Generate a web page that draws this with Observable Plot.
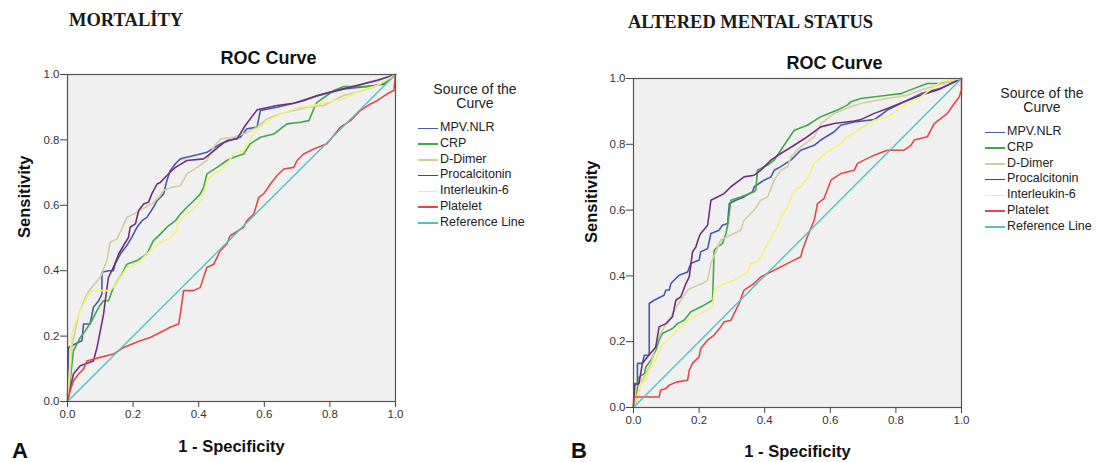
<!DOCTYPE html>
<html>
<head>
<meta charset="utf-8">
<script src="https://cdn.jsdelivr.net/npm/d3@7"></script>
<script src="https://cdn.jsdelivr.net/npm/@observablehq/plot@0.6"></script>
<style>
  html, body { margin: 0; padding: 0; background: #ffffff; }
  #root { position: relative; width: 1101px; height: 462px; overflow: hidden; background: #fff; font-family: "Liberation Sans", Arial, sans-serif; }
  .panel { position: absolute; top: 0; }
  .head { position: absolute; font-family: "Liberation Serif", "Times New Roman", serif; font-weight: bold; font-size: 18.5px; color: #1a1a1a; white-space: nowrap; }
  .letter { position: absolute; font-weight: bold; font-size: 22px; line-height: 22px; color: #111; }
  .legend { position: absolute; color: #222; }
  .legend .ttl { text-align: center; font-size: 14px; line-height: 14px; width: 130px; }
  .legend .row { position: relative; height: 15.8px; font-size: 12.5px; line-height: 15.8px; white-space: nowrap; }
  .legend .sw { position: absolute; left: 0; top: 7.5px; width: 20px; height: 1.6px; }
  .legend .lb { position: absolute; left: 22px; top: 0; }
</style>
</head>
<body>
<div id="root"></div>
<script>
// ---------- data ----------
const seriesNames = ["MPV.NLR", "CRP", "D-Dimer", "Procalcitonin", "Interleukin-6", "Platelet"];
const seriesColors = ["#4a5aa8", "#3fa847", "#d3cc9f", "#71307f", "#f4f17a", "#e4474b"];
const refName = "Reference Line";
const refColor = "#55c0c4";
const refFpr = [0, 1];
const refTpr = [0, 1];
const axisTicks = [0, 0.2, 0.4, 0.6, 0.8, 1.0];

const panelHeads = ["MORTALİTY", "ALTERED MENTAL STATUS"];
const panelLetters = ["A", "B"];
const chartTitle = "ROC Curve";
const xLabel = "1 - Specificity";
const yLabel = "Sensitivity";
const legendTitle = ["Source of the", "Curve"];

// Panel A (Mortality): [1 - specificity, sensitivity]
const A_mpvnlr = [[0,0],[0.003,0.165],[0.023,0.176],[0.044,0.186],[0.049,0.237],[0.069,0.237],[0.079,0.288],[0.095,0.308],[0.105,0.329],[0.105,0.395],[0.125,0.400],[0.140,0.400],[0.145,0.420],[0.161,0.451],[0.181,0.477],[0.196,0.502],[0.212,0.533],[0.227,0.553],[0.242,0.563],[0.262,0.594],[0.273,0.614],[0.283,0.624],[0.293,0.635],[0.303,0.676],[0.313,0.706],[0.329,0.727],[0.344,0.742],[0.364,0.747],[0.405,0.757],[0.425,0.762],[0.466,0.788],[0.507,0.803],[0.527,0.808],[0.547,0.834],[0.578,0.839],[0.588,0.890],[0.639,0.900],[0.690,0.912],[0.720,0.922],[0.791,0.943],[0.842,0.956],[0.893,0.961],[0.969,0.971],[0.975,0.982],[1,1]];
const A_crp = [[0,0],[0.008,0.063],[0.018,0.155],[0.039,0.196],[0.054,0.216],[0.074,0.247],[0.095,0.288],[0.110,0.308],[0.125,0.308],[0.140,0.349],[0.166,0.390],[0.181,0.420],[0.212,0.431],[0.242,0.451],[0.262,0.492],[0.283,0.512],[0.303,0.533],[0.329,0.553],[0.344,0.573],[0.364,0.594],[0.385,0.614],[0.405,0.635],[0.415,0.655],[0.425,0.696],[0.456,0.716],[0.486,0.737],[0.507,0.747],[0.537,0.757],[0.557,0.788],[0.588,0.808],[0.629,0.818],[0.669,0.849],[0.710,0.854],[0.736,0.859],[0.751,0.895],[0.761,0.915],[0.812,0.951],[0.842,0.963],[0.934,0.963],[0.975,0.977],[1,1]];
const A_ddimer = [[0,0],[0.008,0.084],[0.013,0.165],[0.034,0.267],[0.059,0.329],[0.074,0.349],[0.100,0.380],[0.120,0.431],[0.130,0.487],[0.151,0.497],[0.166,0.528],[0.181,0.563],[0.212,0.579],[0.237,0.594],[0.257,0.604],[0.278,0.624],[0.293,0.645],[0.318,0.655],[0.344,0.660],[0.364,0.696],[0.395,0.716],[0.425,0.737],[0.446,0.778],[0.466,0.803],[0.507,0.808],[0.547,0.823],[0.578,0.839],[0.608,0.864],[0.649,0.880],[0.690,0.890],[0.730,0.900],[0.781,0.905],[0.842,0.936],[0.893,0.949],[0.944,0.966],[1,1]];
const A_procalcitonin = [[0,0],[0.018,0.084],[0.039,0.109],[0.079,0.124],[0.090,0.165],[0.110,0.267],[0.115,0.308],[0.125,0.380],[0.140,0.410],[0.156,0.451],[0.171,0.477],[0.186,0.502],[0.191,0.533],[0.207,0.543],[0.217,0.584],[0.232,0.604],[0.247,0.609],[0.257,0.635],[0.273,0.665],[0.283,0.670],[0.303,0.691],[0.313,0.701],[0.329,0.716],[0.364,0.737],[0.415,0.742],[0.435,0.757],[0.466,0.783],[0.486,0.798],[0.517,0.803],[0.542,0.844],[0.578,0.892],[0.639,0.905],[0.690,0.912],[0.720,0.920],[0.761,0.936],[0.842,0.956],[0.893,0.969],[0.944,0.982],[1,1]];
const A_interleukin6 = [[0,0],[0.008,0.124],[0.013,0.206],[0.034,0.267],[0.054,0.308],[0.074,0.339],[0.125,0.339],[0.140,0.349],[0.161,0.380],[0.181,0.410],[0.201,0.415],[0.222,0.431],[0.252,0.461],[0.283,0.487],[0.313,0.502],[0.334,0.522],[0.334,0.543],[0.354,0.568],[0.385,0.589],[0.405,0.614],[0.415,0.635],[0.425,0.676],[0.446,0.696],[0.466,0.706],[0.486,0.727],[0.507,0.757],[0.537,0.767],[0.568,0.818],[0.598,0.849],[0.649,0.880],[0.710,0.900],[0.751,0.905],[0.791,0.915],[0.842,0.926],[0.893,0.951],[0.944,0.966],[1,1]];
const A_platelet = [[0,0],[0.008,0.033],[0.018,0.063],[0.034,0.084],[0.049,0.099],[0.059,0.124],[0.100,0.135],[0.140,0.145],[0.171,0.165],[0.222,0.186],[0.252,0.196],[0.283,0.211],[0.313,0.227],[0.339,0.237],[0.344,0.267],[0.354,0.339],[0.385,0.339],[0.405,0.349],[0.415,0.380],[0.425,0.410],[0.446,0.420],[0.466,0.461],[0.486,0.482],[0.496,0.507],[0.537,0.533],[0.547,0.553],[0.568,0.573],[0.583,0.624],[0.598,0.635],[0.619,0.665],[0.639,0.691],[0.659,0.711],[0.690,0.716],[0.700,0.737],[0.720,0.757],[0.751,0.772],[0.791,0.788],[0.832,0.839],[0.863,0.859],[0.893,0.890],[0.924,0.910],[0.944,0.920],[0.975,0.941],[0.995,0.951],[1,1]];

// Panel B (Altered mental status)
const B_mpvnlr = [[0,0],[0.002,0.073],[0.012,0.073],[0.012,0.134],[0.027,0.134],[0.033,0.159],[0.048,0.159],[0.048,0.316],[0.063,0.326],[0.093,0.341],[0.099,0.357],[0.109,0.357],[0.114,0.377],[0.129,0.392],[0.139,0.402],[0.165,0.412],[0.175,0.438],[0.200,0.448],[0.205,0.473],[0.226,0.483],[0.236,0.529],[0.261,0.539],[0.271,0.554],[0.287,0.559],[0.292,0.620],[0.312,0.630],[0.337,0.640],[0.363,0.656],[0.368,0.671],[0.398,0.691],[0.419,0.701],[0.429,0.721],[0.449,0.732],[0.480,0.752],[0.510,0.782],[0.551,0.797],[0.571,0.813],[0.612,0.838],[0.632,0.858],[0.673,0.868],[0.734,0.875],[0.754,0.889],[0.774,0.904],[0.825,0.929],[0.876,0.954],[0.937,0.970],[1,1]];
const B_crp = [[0,0],[0.007,0.022],[0.017,0.093],[0.033,0.103],[0.038,0.124],[0.053,0.144],[0.068,0.174],[0.078,0.205],[0.088,0.225],[0.119,0.240],[0.134,0.255],[0.154,0.265],[0.175,0.291],[0.195,0.301],[0.215,0.311],[0.241,0.326],[0.246,0.478],[0.256,0.488],[0.271,0.498],[0.282,0.529],[0.287,0.554],[0.297,0.630],[0.327,0.640],[0.368,0.656],[0.373,0.661],[0.378,0.721],[0.409,0.737],[0.429,0.752],[0.449,0.782],[0.470,0.813],[0.490,0.843],[0.530,0.858],[0.571,0.884],[0.622,0.904],[0.652,0.919],[0.663,0.929],[0.693,0.939],[0.774,0.949],[0.815,0.954],[0.856,0.970],[0.896,0.985],[0.937,0.985],[1,1]];
const B_ddimer = [[0,0],[0.007,0.012],[0.022,0.073],[0.038,0.103],[0.053,0.134],[0.073,0.205],[0.088,0.235],[0.114,0.276],[0.134,0.311],[0.165,0.357],[0.185,0.367],[0.210,0.377],[0.226,0.387],[0.236,0.438],[0.251,0.473],[0.266,0.509],[0.307,0.529],[0.327,0.539],[0.337,0.569],[0.368,0.600],[0.388,0.630],[0.409,0.640],[0.429,0.691],[0.449,0.721],[0.470,0.732],[0.480,0.762],[0.510,0.792],[0.551,0.823],[0.571,0.863],[0.612,0.894],[0.663,0.914],[0.693,0.924],[0.774,0.939],[0.835,0.949],[0.876,0.965],[0.927,0.980],[1,1]];
const B_procalcitonin = [[0,0],[0.004,0.068],[0.017,0.073],[0.027,0.134],[0.043,0.154],[0.068,0.184],[0.078,0.245],[0.099,0.255],[0.119,0.276],[0.129,0.326],[0.144,0.336],[0.160,0.377],[0.170,0.397],[0.180,0.473],[0.190,0.488],[0.200,0.519],[0.205,0.529],[0.226,0.554],[0.236,0.630],[0.256,0.640],[0.276,0.650],[0.297,0.671],[0.317,0.686],[0.337,0.701],[0.368,0.706],[0.388,0.721],[0.419,0.752],[0.449,0.772],[0.490,0.797],[0.530,0.823],[0.571,0.853],[0.612,0.863],[0.673,0.871],[0.693,0.875],[0.734,0.894],[0.774,0.909],[0.825,0.929],[0.876,0.949],[0.927,0.965],[1,1]];
const B_interleukin6 = [[0,0],[0.007,0.022],[0.022,0.073],[0.038,0.083],[0.053,0.124],[0.068,0.144],[0.083,0.184],[0.124,0.225],[0.165,0.265],[0.205,0.286],[0.241,0.306],[0.246,0.357],[0.266,0.372],[0.307,0.387],[0.348,0.412],[0.358,0.438],[0.378,0.443],[0.388,0.458],[0.409,0.498],[0.439,0.549],[0.449,0.580],[0.470,0.610],[0.490,0.661],[0.510,0.671],[0.530,0.696],[0.551,0.742],[0.591,0.777],[0.632,0.802],[0.652,0.823],[0.693,0.848],[0.734,0.873],[0.774,0.883],[0.805,0.904],[0.835,0.924],[0.876,0.944],[0.917,0.975],[0.937,0.990],[1,1]];
const B_platelet = [[0,0],[0.002,0.032],[0.078,0.032],[0.083,0.053],[0.099,0.058],[0.109,0.068],[0.134,0.078],[0.165,0.083],[0.170,0.113],[0.180,0.134],[0.200,0.154],[0.205,0.179],[0.226,0.205],[0.246,0.220],[0.266,0.245],[0.276,0.260],[0.297,0.265],[0.307,0.286],[0.322,0.316],[0.337,0.357],[0.368,0.377],[0.388,0.397],[0.429,0.417],[0.470,0.438],[0.510,0.458],[0.515,0.478],[0.530,0.519],[0.551,0.569],[0.561,0.620],[0.581,0.635],[0.602,0.691],[0.632,0.711],[0.673,0.721],[0.683,0.742],[0.734,0.767],[0.774,0.782],[0.825,0.782],[0.846,0.797],[0.856,0.813],[0.896,0.823],[0.917,0.863],[0.957,0.894],[0.978,0.924],[0.993,0.944],[1,0.965],[1,1]];

const panelSeries = [
  [A_mpvnlr, A_crp, A_ddimer, A_procalcitonin, A_interleukin6, A_platelet],
  [B_mpvnlr, B_crp, B_ddimer, B_procalcitonin, B_interleukin6, B_platelet]
];

// ---------- layout ----------
const layouts = [
  {left: 0, width: 560, mL: 67, mR: 165, mT: 74, mB: 61, titleDy: -16, xLabDy: 45, yLabDx: -43,
   head: {x: 69, y: 10}, letter: {x: 12, y: 440}, legend: {x: 418, y: 82}},
  {left: 560, width: 541, mL: 73, mR: 140, mT: 78, mB: 55, titleDy: -15, xLabDy: 44, yLabDx: -42,
   head: {x: 628, y: 12}, letter: {x: 571, y: 440}, legend: {x: 985, y: 86}}
];

const root = document.getElementById("root");

layouts.forEach((L, p) => {
  const rows = [];
  panelSeries[p].forEach((pts, i) => pts.forEach(([f, t], k) => rows.push({s: seriesNames[i], f, t, k})));
  const refRows = refFpr.map((f, k) => ({f, t: refTpr[k]}));

  const plot = Plot.plot({
    width: L.width, height: 462,
    marginLeft: L.mL, marginRight: L.mR, marginTop: L.mT, marginBottom: L.mB,
    style: {fontFamily: "'Liberation Sans', Arial, sans-serif", fontSize: "11.5px", color: "#333", background: "transparent", overflow: "visible"},
    x: {domain: [0, 1]},
    y: {domain: [0, 1]},
    color: {domain: seriesNames, range: seriesColors},
    marks: [
      Plot.frame({fill: "#f0f0f0", stroke: null}),
      ...seriesNames.map((name, i) =>
        Plot.line(rows.filter(r => r.s === name), {x: "f", y: "t", stroke: seriesColors[i], strokeWidth: 1.6, curve: "linear"})),
      Plot.line(refRows, {x: "f", y: "t", stroke: refColor, strokeWidth: 1.4}),
      Plot.frame({stroke: "#555", strokeWidth: 1.2}),
      Plot.axisX({ticks: axisTicks, tickFormat: d3.format(".1f"), tickSize: 6, tickPadding: 2, label: null, stroke: "#444"}),
      Plot.axisY({ticks: axisTicks, tickFormat: d3.format(".1f"), tickSize: 7, tickPadding: 1, label: null, stroke: "#444"}),
      Plot.text([chartTitle], {frameAnchor: "top", dx: 37, dy: L.titleDy, fontSize: 18, fontWeight: "bold", fill: "#111", lineAnchor: "middle"}),
      Plot.text([xLabel], {frameAnchor: "bottom", dy: L.xLabDy, fontSize: 16.5, fontWeight: "bold", fill: "#111", lineAnchor: "middle"}),
      Plot.text([yLabel], {frameAnchor: "left", dx: L.yLabDx, rotate: -90, fontSize: 16.5, fontWeight: "bold", fill: "#111"})
    ]
  });
  plot.classList.add("panel");
  plot.style.left = L.left + "px";
  root.appendChild(plot);

  const head = document.createElement("div");
  head.className = "head";
  head.style.left = L.head.x + "px";
  head.style.top = L.head.y + "px";
  head.textContent = panelHeads[p];
  root.appendChild(head);

  const letter = document.createElement("div");
  letter.className = "letter";
  letter.style.left = L.letter.x + "px";
  letter.style.top = L.letter.y + "px";
  letter.textContent = panelLetters[p];
  root.appendChild(letter);

  const leg = document.createElement("div");
  leg.className = "legend";
  leg.style.left = L.legend.x + "px";
  leg.style.top = L.legend.y + "px";
  const ttl = document.createElement("div");
  ttl.className = "ttl";
  ttl.style.marginLeft = "-8px";
  ttl.innerHTML = legendTitle.join("<br>");
  leg.appendChild(ttl);
  const spacer = document.createElement("div");
  spacer.style.height = "10px";
  leg.appendChild(spacer);
  [...seriesNames, refName].forEach((name, i) => {
    const row = document.createElement("div");
    row.className = "row";
    const sw = document.createElement("div");
    sw.className = "sw";
    sw.style.background = i < seriesNames.length ? seriesColors[i] : refColor;
    const lb = document.createElement("span");
    lb.className = "lb";
    lb.textContent = name;
    row.appendChild(sw);
    row.appendChild(lb);
    leg.appendChild(row);
  });
  root.appendChild(leg);
});
</script>
</body>
</html>
